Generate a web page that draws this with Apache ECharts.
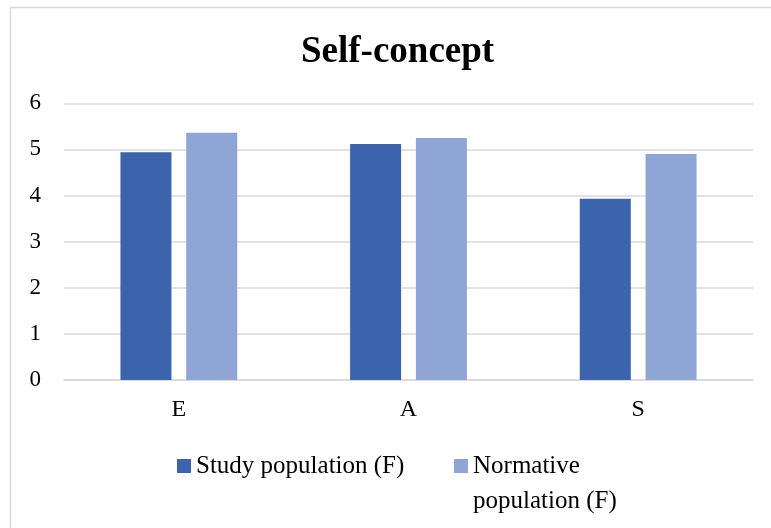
<!DOCTYPE html>
<html>
<head>
<meta charset="utf-8">
<script src="https://cdn.jsdelivr.net/npm/echarts@6/dist/echarts.min.js"></script>
<style>
  html, body { margin: 0; padding: 0; background: #ffffff; }
  #chart { width: 771px; height: 528px; }
</style>
</head>
<body>
<div id="chart"></div>
<script>
// Self-concept scores by dimension
const categories = ['E', 'A', 'S'];
const studyPopulation = [4.94, 5.12, 3.93];
const normativePopulation = [5.36, 5.25, 4.90];
const seriesNames = ['Study population (F)', 'Normative\npopulation (F)'];
const yTicks = [0, 1, 2, 3, 4, 5, 6];

const serif = '"Liberation Serif", "Times New Roman", serif';
const chart = echarts.init(document.getElementById('chart'), null, { renderer: 'canvas' });

const legendText = { fontFamily: serif, fontSize: 25, color: '#000000', lineHeight: 35 };

chart.setOption({
  backgroundColor: '#ffffff',
  animation: false,
  title: {
    text: 'Self-concept',
    left: 296,
    top: 29,
    textStyle: { fontFamily: serif, fontSize: 37, fontWeight: 'bold', color: '#000000' }
  },
  graphic: [{
    type: 'rect',
    shape: { x: 10.5, y: 7.5, width: 800, height: 600 },
    style: { fill: 'none', stroke: '#d9d9d9', lineWidth: 1.5 },
    silent: true
  }],
  legend: [{
    data: [seriesNames[0]],
    left: 177,
    top: 448.5,
    padding: 0,
    itemWidth: 14,
    itemHeight: 14,
    icon: 'rect',
    textStyle: legendText
  }, {
    data: [seriesNames[1]],
    left: 454,
    top: 413.5,
    padding: 0,
    itemWidth: 14,
    itemHeight: 14,
    icon: 'rect',
    // leading blank line keeps the first text line level with the swatch
    formatter: name => '\n' + name,
    textStyle: legendText
  }],
  grid: { left: 64, right: 18, top: 103.3, bottom: 148, containLabel: false },
  xAxis: {
    type: 'category',
    data: categories,
    axisLine: { lineStyle: { color: '#d9d9d9', width: 1.5 } },
    axisTick: { show: false },
    axisLabel: { fontFamily: serif, fontSize: 24, color: '#000000', margin: 18 }
  },
  yAxis: {
    type: 'value',
    min: yTicks[0],
    max: yTicks[yTicks.length - 1],
    interval: 1,
    axisLine: { show: false },
    axisTick: { show: false },
    splitLine: { lineStyle: { color: '#d9d9d9', width: 1.5 } },
    axisLabel: { fontFamily: serif, fontSize: 23, color: '#000000', margin: 23 }
  },
  series: [{
    name: seriesNames[0],
    type: 'bar',
    data: studyPopulation,
    barWidth: 51,
    barGap: '29%',
    itemStyle: { color: '#3c64ac' }
  }, {
    name: seriesNames[1],
    type: 'bar',
    data: normativePopulation,
    barWidth: 51,
    itemStyle: { color: '#8fa5d6' }
  }]
});
</script>
</body>
</html>
